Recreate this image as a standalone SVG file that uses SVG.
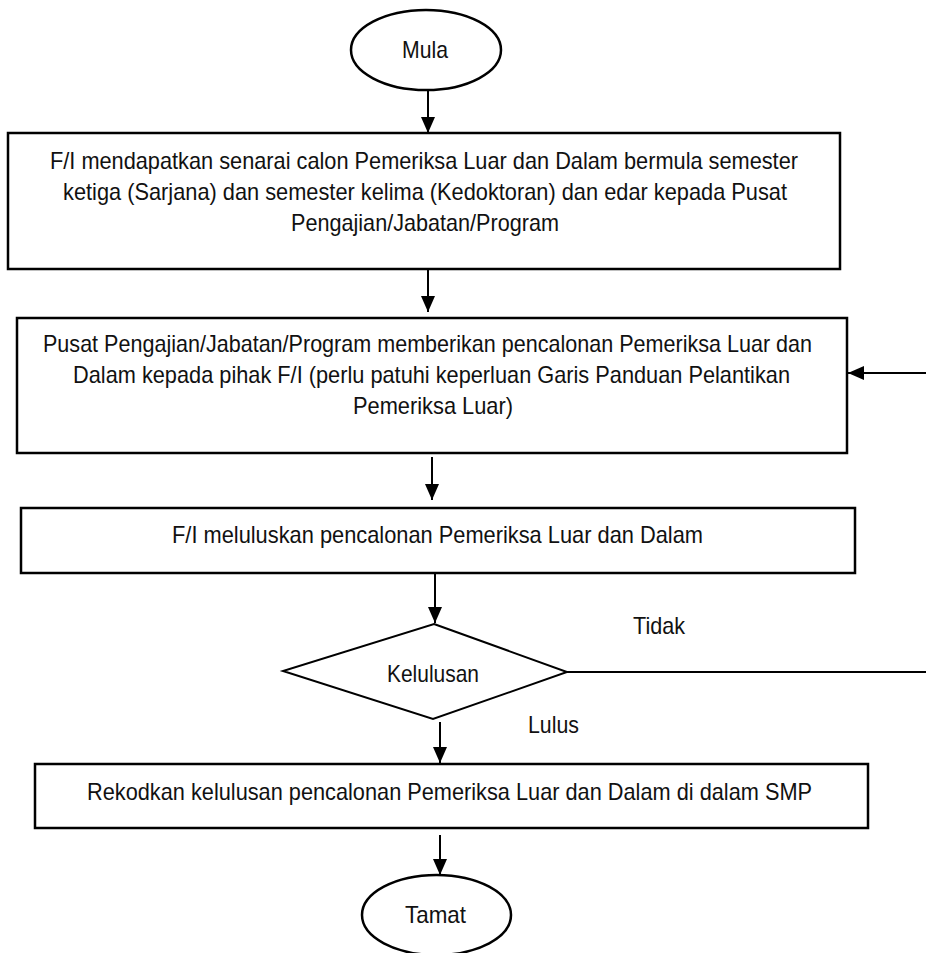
<svg xmlns="http://www.w3.org/2000/svg" width="926" height="953" viewBox="0 0 926 953">
<style>
  .shape { fill: #fff; stroke: #000; stroke-width: 2.5; }
  .dia { fill: #fff; stroke: #000; stroke-width: 2; }
  .conn { fill: none; stroke: #000; stroke-width: 2; }
  text { font-family: "Liberation Sans", Arial, sans-serif; font-size: 24px; fill: #111; }
  .c { text-anchor: middle; }
</style>
<defs>
  <marker id="arrow" markerUnits="userSpaceOnUse" markerWidth="16" markerHeight="16" viewBox="0 0 16 14" refX="16" refY="7" orient="auto">
    <path d="M0,0 L16,7 L0,14 Z" fill="#000"/>
  </marker>
</defs>
<rect width="926" height="953" fill="#fff"/>
<g id="connectors">
  <path class="conn" d="M428,90 V133" marker-end="url(#arrow)"/>
  <path class="conn" d="M428,269 V312" marker-end="url(#arrow)"/>
  <path class="conn" d="M432,457 V500" marker-end="url(#arrow)"/>
  <path class="conn" d="M435,573 V623" marker-end="url(#arrow)"/>
  <path class="conn" d="M440,722 V763" marker-end="url(#arrow)"/>
  <path class="conn" d="M440,835 V875" marker-end="url(#arrow)"/>
  <path class="conn" d="M567,672 H934 V373 H848" marker-end="url(#arrow)"/>
  <text x="633" y="634" textLength="52" lengthAdjust="spacingAndGlyphs">Tidak</text>
  <text x="528" y="733" textLength="51" lengthAdjust="spacingAndGlyphs">Lulus</text>
</g>
<g id="mula">
  <ellipse class="shape" cx="426" cy="50" rx="75" ry="40"/>
  <text class="c" x="425" y="58" textLength="46" lengthAdjust="spacingAndGlyphs">Mula</text>
</g>
<g id="box1">
  <rect class="shape" x="8" y="133" width="832" height="136"/>
  <text class="c" x="424" y="169" textLength="748" lengthAdjust="spacingAndGlyphs">F/I mendapatkan senarai calon Pemeriksa Luar dan Dalam bermula semester</text>
  <text class="c" x="425" y="200" textLength="724" lengthAdjust="spacingAndGlyphs">ketiga (Sarjana) dan semester kelima (Kedoktoran) dan edar kepada Pusat</text>
  <text class="c" x="425" y="231" textLength="268" lengthAdjust="spacingAndGlyphs">Pengajian/Jabatan/Program</text>
</g>
<g id="box2">
  <rect class="shape" x="17" y="318" width="830" height="135"/>
  <text class="c" x="427.5" y="352" textLength="769" lengthAdjust="spacingAndGlyphs">Pusat Pengajian/Jabatan/Program memberikan pencalonan Pemeriksa Luar dan</text>
  <text class="c" x="431.5" y="383" textLength="717" lengthAdjust="spacingAndGlyphs">Dalam kepada pihak F/I (perlu patuhi keperluan Garis Panduan Pelantikan</text>
  <text class="c" x="433" y="414" textLength="160" lengthAdjust="spacingAndGlyphs">Pemeriksa Luar)</text>
</g>
<g id="box3">
  <rect class="shape" x="21" y="508" width="834" height="65"/>
  <text class="c" x="437.5" y="543" textLength="531" lengthAdjust="spacingAndGlyphs">F/I meluluskan pencalonan Pemeriksa Luar dan Dalam</text>
</g>
<g id="kelulusan">
  <polygon class="dia" points="434,624 567,672 433,719 283,671"/>
  <text class="c" x="433" y="682" textLength="92" lengthAdjust="spacingAndGlyphs">Kelulusan</text>
</g>
<g id="box4">
  <rect class="shape" x="35" y="764" width="833" height="64"/>
  <text class="c" x="449.5" y="800" textLength="725" lengthAdjust="spacingAndGlyphs">Rekodkan kelulusan pencalonan Pemeriksa Luar dan Dalam di dalam SMP</text>
</g>
<g id="tamat">
  <ellipse class="shape" cx="436.5" cy="915" rx="74.5" ry="40"/>
  <text class="c" x="435.5" y="923" textLength="61" lengthAdjust="spacingAndGlyphs">Tamat</text>
</g>
</svg>
